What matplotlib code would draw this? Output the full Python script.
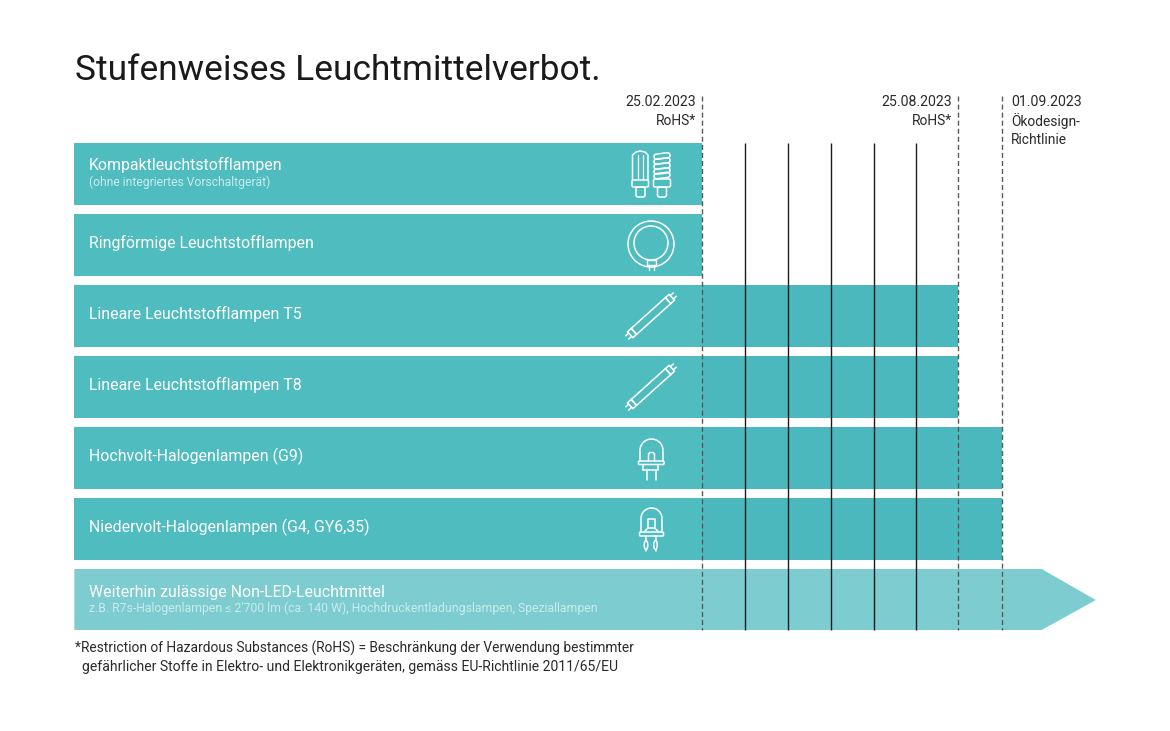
import matplotlib
matplotlib.use("Agg")
import matplotlib.pyplot as plt
from matplotlib.patches import Arc, Circle, Ellipse, FancyBboxPatch, Polygon, Rectangle
from matplotlib.transforms import Affine2D

plt.rcParams["font.family"] = ["Roboto", "DejaVu Sans"]

# months counted from 25.02.2023, the first ban date
lamp_labels = [
    "Kompaktleuchtstofflampen",
    "Ringförmige Leuchtstofflampen",
    "Lineare Leuchtstofflampen T5",
    "Lineare Leuchtstofflampen T8",
    "Hochvolt-Halogenlampen (G9)",
    "Niedervolt-Halogenlampen (G4, GY6,35)",
]
lamp_ban_month = [0, 0, 6, 6, 7.04, 7.04]
month_lines = [1.01, 2.02, 3.02, 4.02, 5.02]
deadline_months = [0, 6, 7.04]
allowed_label = "Weiterhin zulässige Non-LED-Leuchtmittel"
allowed_note = "z.B. R7s-Halogenlampen ≤ 2'700 lm (ca. 140 W), Hochdruckentladungslampen, Speziallampen"
allowed_end_month = 7.96
allowed_tip_month = 9.23
start_month = -14.71

TEAL = "#4fbcc0"
TEAL_DARK = "#4bb8bd"
TEAL_LIGHT = "#7dccd0"
TEXT = "#2b2b2b"
SUBTEXT = "#c9ebec"
PX_PER_MONTH = 42.67

fig = plt.figure(figsize=(11.7, 7.31), dpi=100)
ax = fig.add_axes([0, 0, 1, 1])
ax.set_xlim(-702 / PX_PER_MONTH, (1170 - 702) / PX_PER_MONTH)
ax.set_ylim((731 - 174) / 71, -174 / 71)
ax.axis("off")

# bars, part after the first deadline is a touch darker
for i, end in enumerate(lamp_ban_month):
    ax.barh(i, 0 - start_month, left=start_month, height=62 / 71, color=TEAL, lw=0, zorder=1)
    if end > 0:
        ax.barh(i, end, left=0, height=62 / 71, color=TEAL_DARK, lw=0, zorder=1)

# arrow for the lamps that stay allowed
row = len(lamp_labels)
top = row - 31 / 71
bottom = row + 30 / 71
ax.add_patch(Polygon([(start_month, top), (allowed_end_month, top),
                      (allowed_tip_month, row), (allowed_end_month, bottom),
                      (start_month, bottom)], closed=True, fc=TEAL_LIGHT, lw=0, zorder=1))

ax.vlines(month_lines, -0.437, bottom, color="#1c1c1c", lw=1.0, zorder=3)
ax.vlines(deadline_months, -1.102, bottom, color="#5a5a5a", lw=1.0,
          linestyles=(0, (3.6, 2.2)), zorder=3)

# pixel overlay for text and icons
ov = fig.add_axes([0, 0, 1, 1], facecolor="none")
ov.set_xlim(0, 1170)
ov.set_ylim(731, 0)
ov.axis("off")

ov.text(75, 70, "Stufenweises Leuchtmittelverbot.", fontsize=25.4, color="#1a1a1a", va="center")

LABEL_Y = [243, 314, 385, 456, 527]
ov.text(89, 165, lamp_labels[0], fontsize=11.4, color="white", va="center")
ov.text(89, 182, "(ohne integriertes Vorschaltgerät)", fontsize=8.7, color=SUBTEXT, va="center")
for lab, y in zip(lamp_labels[1:], LABEL_Y):
    ov.text(89, y, lab, fontsize=11.4, color="white", va="center")
ov.text(89, 592, allowed_label, fontsize=11.4, color="white", va="center")
ov.text(89, 608, allowed_note, fontsize=8.85, color=SUBTEXT, va="center")

ov.text(696, 102, "25.02.2023", fontsize=10.2, color=TEXT, ha="right", va="center")
ov.text(696, 121, "RoHS*", fontsize=10, color=TEXT, ha="right", va="center")
ov.text(952, 102, "25.08.2023", fontsize=10.2, color=TEXT, ha="right", va="center")
ov.text(952, 121, "RoHS*", fontsize=10, color=TEXT, ha="right", va="center")
ov.text(1011, 102, "01.09.2023", fontsize=10.2, color=TEXT, va="center")
ov.text(1011, 121, "Ökodesign-", fontsize=9.9, color=TEXT, va="center")
ov.text(1011, 140, "Richtlinie", fontsize=9.9, color=TEXT, va="center")

ov.text(75, 648, "*Restriction of Hazardous Substances (RoHS) = Beschränkung der Verwendung bestimmter",
        fontsize=9.9, color=TEXT, va="center")
ov.text(82, 667, "gefährlicher Stoffe in Elektro- und Elektronikgeräten, gemäss EU-Richtlinie 2011/65/EU",
        fontsize=10.1, color=TEXT, va="center")


def line(xs, ys, transform=None, lw=1.1):
    ov.plot(xs, ys, color="white", lw=lw, solid_capstyle="round",
            transform=(transform or ov.transData), zorder=5)


def box(x, y, w, h, lw=1.1, rounding=0.0, transform=None):
    ov.add_patch(FancyBboxPatch((x, y), w, h, boxstyle=f"round,pad=0,rounding_size={rounding}",
                                fc="none", ec="white", lw=lw, zorder=5,
                                transform=(transform or ov.transData)))


def cfl_icons():
    # straight tube lamp
    for x in (637.5, 643):
        line([x, x], [155, 179], lw=0.9)
    line([632.5, 632.5, 636, 640, 645, 648, 648], [180, 155, 152, 151, 152, 155, 180])
    box(632, 180, 16.5, 7, rounding=1.5)
    box(636, 187, 9, 10, rounding=2)
    # spiral lamp
    for y in (156, 161, 166, 171, 175.5):
        tilt = Affine2D().rotate_deg_around(662, y, -7) + ov.transData
        box(654, y - 2.6, 16, 5.2, rounding=2.4, transform=tilt)
    box(653.5, 179, 17, 8, rounding=1.5)
    box(657.5, 187, 9, 10, rounding=2)


def ring_icon():
    ov.add_patch(Circle((651, 244), 23, fc="none", ec="white", lw=1.1, zorder=5))
    ov.add_patch(Circle((651, 243), 17, fc="none", ec="white", lw=1.1, zorder=5))
    ov.add_patch(Rectangle((647, 260), 8.5, 5, fc=TEAL, ec="white", lw=1.0, zorder=6))
    line([649, 649], [265, 270], lw=1.0)
    line([653.5, 653.5], [265, 270], lw=1.0)


def tube_icon(cx, cy):
    rot = Affine2D().rotate_deg(-42).translate(cx, cy) + ov.transData
    ln = 23
    line([-ln, ln, ln, -ln, -ln], [-4, -4, 4, 4, -4], rot)
    line([-ln - 5, -ln, -ln, -ln - 5, -ln - 5], [-4, -4, 4, 4, -4], rot)
    line([ln, ln + 5, ln + 5, ln, ln], [-4, -4, 4, 4, -4], rot)
    for s in (-2.2, 2.2):
        line([ln + 5, ln + 9], [s, s], rot)
        line([-ln - 5, -ln - 9], [s, s], rot)


def dome(x0, x1, top_y, bottom_y):
    cx = (x0 + x1) / 2
    r = (x1 - x0) / 2
    ov.add_patch(Arc((cx, top_y + r), 2 * r, 2 * r, theta1=180, theta2=360,
                     ec="white", lw=1.1, zorder=5))
    line([x0, x0], [top_y + r, bottom_y])
    line([x1, x1], [top_y + r, bottom_y])


def g9_icon():
    dome(640, 663, 439, 461)
    box(638.5, 461, 25.5, 3.5, rounding=1)
    line([648.5, 648.5, 650, 653, 654.5, 654.5], [461, 454, 452.5, 452.5, 454, 461])
    line([643, 658], [470, 470])
    line([643, 643], [464.5, 470])
    line([658, 658], [464.5, 470])
    line([647, 647], [470, 480])
    line([655.5, 655.5], [470, 480])


def g4_icon():
    dome(641, 662, 508, 532)
    box(639.5, 532, 24, 4, rounding=1)
    line([648, 648, 654.5, 654.5], [528, 519, 519, 528])
    line([644, 648, 654.5, 659], [532, 528, 528, 532])
    for x in (646, 655.5):
        line([x, x], [536, 540])
        ov.add_patch(Ellipse((x, 545), 3.5, 9, fc="none", ec="white", lw=1.1, zorder=5))
        line([x, x], [549.5, 551])


cfl_icons()
ring_icon()
tube_icon(651, 316)
tube_icon(651, 387)
g9_icon()
g4_icon()

fig.savefig("out.png", dpi=100, facecolor="white")
